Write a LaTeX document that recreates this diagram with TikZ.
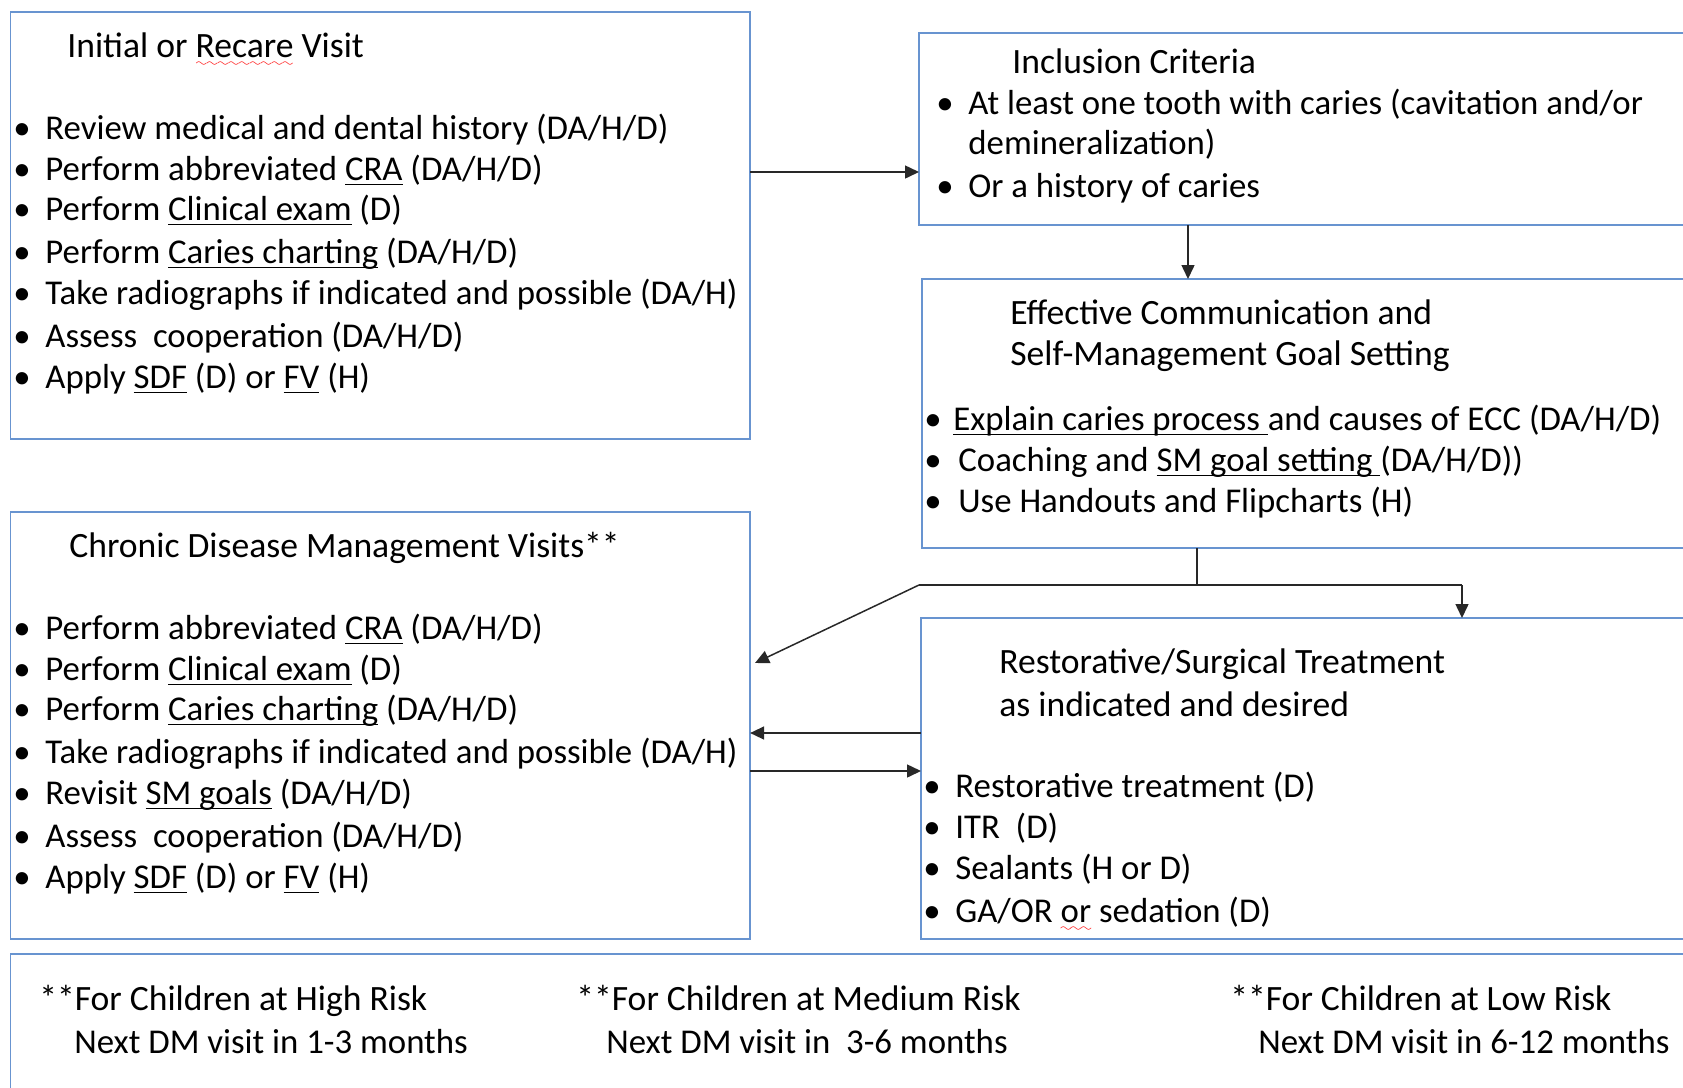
\documentclass[tikz,border=0pt]{standalone}
\usepackage{fontspec}
\setmainfont{Carlito}
\usetikzlibrary{arrows.meta}
\definecolor{boxblue}{RGB}{104,148,208}
\definecolor{linegray}{RGB}{40,40,40}
\font\wavefont=lasy6
\newcommand{\bul}[1][13.5pt]{\makebox[#1][l]{\hspace{-2.5pt}\textbullet}}
\newcommand{\ul}[1]{\setbox0\hbox{#1}\rlap{\rule[-2.4pt]{\wd0}{0.65pt}}\box0{}}
\newcommand{\spellwave}[1]{\setbox0\hbox{#1}\rlap{\color{red}\raisebox{-4.5pt}{\hbox to\wd0{\xleaders\hbox{\wavefont\char58}\hfil}}}\box0{}}
\tikzset{
  card/.style={draw=boxblue, line width=0.75pt, anchor=north west, inner sep=0pt, outer sep=0pt},
  line/.style={draw=linegray, line width=0.75pt},
  arr/.style={line, -{Triangle[length=7pt,width=6.5pt]}},
  txt/.style={anchor=base west, inner sep=0pt, font=\fontsize{17.4}{20}\selectfont},
  head/.style={txt, font=\fontsize{17.8}{20}\selectfont},
}
\begin{document}
\begin{tikzpicture}[x=0.5pt,y=-0.5pt]
	\useasboundingbox (0,0) rectangle (1683,1088);
	\node[card, minimum width=369.7pt, minimum height=213.6pt] (init) at (10.7,11.8) {};
	\node[card, minimum width=390.5pt, minimum height=96pt] (incl) at (919,33) {};
	\node[card, minimum width=389pt, minimum height=134.5pt] (comm) at (922,279) {};
	\node[card, minimum width=369.7pt, minimum height=213.5pt] (chronic) at (10.7,512) {};
	\node[card, minimum width=389.5pt, minimum height=160.5pt] (restor) at (921,618) {};
	\node[card, minimum width=844.7pt, minimum height=73pt] (note) at (10.7,954) {};
	\node[head] (initT) at (67,57) {Initial or \spellwave{Recare} Visit};
	\node[txt] (init1) at (18,139) {\bul Review medical and dental history (DA/H/D)};
	\node[txt] (init2) at (18,180) {\bul Perform abbreviated \ul{CRA} (DA/H/D)};
	\node[txt] (init3) at (18,220) {\bul Perform \ul{Clinical exam} (D)};
	\node[txt] (init4) at (18,263) {\bul Perform \ul{Caries charting} (DA/H/D)};
	\node[txt] (init5) at (18,304) {\bul Take radiographs if indicated and possible (DA/H)};
	\node[txt] (init6) at (18,347) {\bul Assess\ \ cooperation (DA/H/D)};
	\node[txt] (init7) at (18,388) {\bul Apply \ul{SDF} (D) or \ul{FV} (H)};
	\node[head] (inclT) at (1012,73) {Inclusion Criteria};
	\node[txt] (incl1) at (941,114) {\bul At least one tooth with caries (cavitation and/or};
	\node[txt] (incl1b) at (968,154) {demineralization)};
	\node[txt] (incl2) at (941,197) {\bul Or a history of caries};
	\node[head] (commT) at (1010,324) {Effective Communication and};
	\node[head] (commT2) at (1010,365) {Self-Management Goal Setting};
	\node[txt] (comm1) at (929,430) {\bul[12pt]\ul{Explain caries process\ }and causes of ECC (DA/H/D)};
	\node[txt] (comm2) at (929,471) {\bul[14.5pt]Coaching and \ul{SM goal setting\ }(DA/H/D))};
	\node[txt] (comm3) at (929,512) {\bul[14.5pt]Use Handouts and Flipcharts (H)};
	\node[head] (chronicT) at (69,557) {Chronic Disease Management Visits**};
	\node[txt] (chronic1) at (18,639) {\bul Perform abbreviated \ul{CRA} (DA/H/D)};
	\node[txt] (chronic2) at (18,680) {\bul Perform \ul{Clinical exam} (D)};
	\node[txt] (chronic3) at (18,720) {\bul Perform \ul{Caries charting} (DA/H/D)};
	\node[txt] (chronic4) at (18,763) {\bul Take radiographs if indicated and possible (DA/H)};
	\node[txt] (chronic5) at (18,804) {\bul Revisit \ul{SM goals} (DA/H/D)};
	\node[txt] (chronic6) at (18,847) {\bul Assess\ \ cooperation (DA/H/D)};
	\node[txt] (chronic7) at (18,888) {\bul Apply \ul{SDF} (D) or \ul{FV} (H)};
	\node[head] (restorT) at (999,673) {Restorative/Surgical Treatment};
	\node[head] (restorT2) at (999,716) {as indicated and desired};
	\node[txt] (restor1) at (928,797) {\bul Restorative treatment (D)};
	\node[txt] (restor2) at (928,838) {\bul ITR\ \ (D)};
	\node[txt] (restor3) at (928,879) {\bul Sealants (H or D)};
	\node[txt] (restor4) at (928,922) {\bul GA/OR \spellwave{or} sedation (D)};
	\node[head] (high) at (39,1010) {**For Children at High Risk};
	\node[txt] (high2) at (74,1053) {Next DM visit in 1-3 months};
	\node[head] (medium) at (576,1010) {**For Children at Medium Risk};
	\node[txt] (medium2) at (606,1053) {Next DM visit in\ \ 3-6 months};
	\node[head] (low) at (1230,1010) {**For Children at Low Risk};
	\node[txt] (low2) at (1258,1053) {Next DM visit in 6-12 months};
	\coordinate (a1) at (0,172);
	\coordinate (a2) at (1188,0);
	\coordinate (fork) at (1197,585);
	\coordinate (forkL) at (919,585);
	\coordinate (forkR) at (1462,585);
	\coordinate (a3) at (755,663);
	\coordinate (a4) at (0,733);
	\coordinate (a5) at (0,771);
	\draw[arr] (init.east |- a1) -- (incl.west |- a1);
	\draw[arr] (incl.south -| a2) -- (comm.north -| a2);
	\draw[line] (comm.south -| fork) -- (fork);
	\draw[line] (forkL) -- (forkR);
	\draw[arr] (forkR) -- (restor.north -| forkR);
	\draw[arr] (forkL) -- (a3);
	\draw[arr] (restor.west |- a4) -- (chronic.east |- a4);
	\draw[arr] (chronic.east |- a5) -- (restor.west |- a5);
\end{tikzpicture}
\end{document}
